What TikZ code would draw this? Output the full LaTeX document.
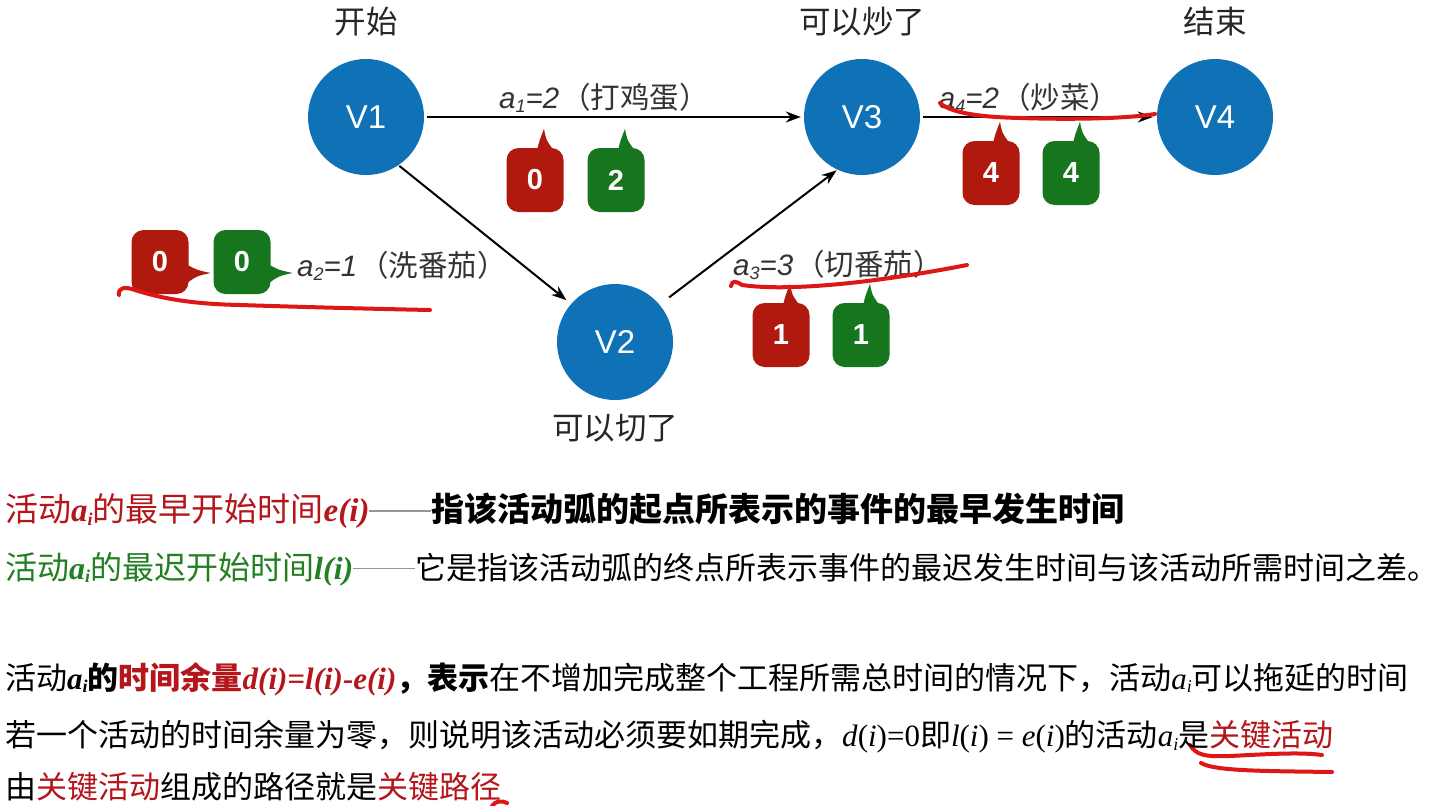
\documentclass[tikz,border=0pt]{standalone}
\usepackage{fontspec}
\setmainfont{Liberation Serif}
\setsansfont{Liberation Sans}
\newfontfamily\cjk{Noto Sans CJK SC}
\usetikzlibrary{arrows.meta,calc}
\definecolor{nodeblue}{RGB}{16,114,182}
\definecolor{boxred}{RGB}{176,26,14}
\definecolor{boxgreen}{RGB}{22,118,30}
\definecolor{txtred}{RGB}{180,22,28}
\definecolor{txtgreen}{RGB}{34,128,34}
\definecolor{penred}{RGB}{222,22,22}
\definecolor{dashgray}{RGB}{150,150,150}
\newcommand\lowsub[1]{\raisebox{-0.28ex}{\fontsize{18}{18}\selectfont #1}}
\newcommand\aiB{\textrm{\bfseries\itshape a\raisebox{-0.25ex}{\fontsize{18}{18}\selectfont i}}}
\newcommand\aiR{\textrm{\itshape a\raisebox{-0.25ex}{\fontsize{18}{18}\selectfont i}}}
\newcommand\rmit[1]{\textrm{\itshape #1}}
\newcommand\rmup[1]{\textrm{\upshape #1}}
\newcommand\longdash[1]{\textcolor{dashgray}{\rule[10pt]{#1}{1.6pt}}}
\begin{document}
\begin{tikzpicture}[x=1pt,y=-1pt,
  vert/.style={circle, fill=nodeblue, minimum size=116pt, inner sep=0pt, text=white, font=\sffamily\fontsize{33}{33}\selectfont},
  caption/.style={font=\cjk\fontsize{31.5}{32}\selectfont, text=black!85},
  elabel/.style={font=\sffamily\fontsize{29.5}{30}\selectfont, text=black!80, inner sep=0pt},
  badge/.style={rounded corners=12pt, minimum width=57pt, minimum height=64pt, inner sep=0pt, text=white, font=\sffamily\bfseries\fontsize{29}{29}\selectfont},
  redbadge/.style={badge, fill=boxred},
  greenbadge/.style={badge, fill=boxgreen},
  arc/.style={-{Stealth[length=15pt,width=11pt]}, line width=2pt},
  pen/.style={penred, line width=4pt, line cap=round, line join=round},
  textline/.style={anchor=west, inner sep=0pt, font=\cjk}
]
\useasboundingbox (0,0) rectangle (1452,806);
\fill[white] (0,0) rectangle (1452,806);

% vertices
\node[vert] (v1) at (366,117) {V1};
\node[vert] (v3) at (862,117) {V3};
\node[vert] (v4) at (1215,117) {V4};
\node[vert] (v2) at (615,342) {V2};

\node[caption] (c1) at (366,22) {开始};
\node[caption] (c3) at (862,22) {可以炒了};
\node[caption] (c4) at (1215,22) {结束};
\node[caption] (c2) at (615,428) {可以切了};

% edges
\draw[arc, shorten <=3pt, shorten >=3pt] (v1.east) -- (v3.west);
\draw[arc, shorten <=1pt, shorten >=6pt] (v1.304) -- (v2.139);
\draw[arc, shorten <=12pt, shorten >=1pt] (v2.40) -- (v3.245);
\draw[arc, shorten <=3pt, shorten >=4pt] (v3.east) -- (v4.west);

% edge labels
\node[elabel] (l1) at (604,98) {\itshape a\lowsub{1}=2\upshape\hspace{2pt}\cjk（打鸡蛋）};
\node[elabel] (l2) at (402,266) {\itshape a\lowsub{2}=1\upshape\hspace{2pt}\cjk（洗番茄）};
\node[elabel] (l3) at (838,265) {\itshape a\lowsub{3}=3\upshape\hspace{2pt}\cjk（切番茄）};
\node[elabel] (l4) at (1029,98) {\itshape a\lowsub{4}=2\upshape\hspace{2pt}\cjk（炒菜）};

% badges with top pointers
\node[redbadge] (r1) at (535,180) {0};
\node[greenbadge] (g1) at (616,180) {2};
\node[redbadge] (r4) at (991,173) {4};
\node[greenbadge] (g4) at (1071,173) {4};
\node[redbadge] (r3) at (781,335) {1};
\node[greenbadge] (g3) at (861,335) {1};
\foreach \b/\c in {r1/boxred,g1/boxgreen,r4/boxred,g4/boxgreen,r3/boxred,g3/boxgreen}{
  \fill[\c] ($(\b.north)+(2,3)$) .. controls ($(\b.north)+(4,-6)$) .. ($(\b.north)+(9,-19)$)
     .. controls ($(\b.north)+(11,-8)$) .. ($(\b.north)+(19,3)$) -- cycle;
}
% badges with right pointers
\node[redbadge] (r2) at (160,262) {0};
\node[greenbadge] (g2) at (242,262) {0};
\foreach \b/\c in {r2/boxred,g2/boxgreen}{
  \fill[\c] ($(\b.east)+(-3,2)$) .. controls ($(\b.east)+(8,8)$) .. ($(\b.east)+(22,11)$)
     .. controls ($(\b.east)+(8,14)$) .. ($(\b.east)+(-3,22)$) -- cycle;
}

% red pen strokes
\draw[pen] (119,295) .. controls (118,288) and (124,286) .. (135,290)
   .. controls (160,298) and (190,304) .. (240,305)
   .. controls (300,307) and (380,309) .. (430,310);
\draw[pen] (940,103) .. controls (950,112) and (975,117) .. (1020,118)
   .. controls (1080,120) and (1130,118) .. (1155,114);
\draw[pen] (731,286) .. controls (732,280) and (736,281) .. (742,285)
   .. controls (790,292) and (880,282) .. (967,265);
\draw[pen] (1190,745) .. controls (1196,755) and (1205,757) .. (1230,756)
   .. controls (1270,754) and (1300,752) .. (1322,755);
\draw[pen] (1201,763) .. controls (1215,771) and (1260,771) .. (1332,772);
\draw[pen] (492,806) .. controls (495,801) and (502,800) .. (507,803);

% text lines
\node[textline] (t1) at (5,511) {{\color{txtred}\fontsize{33}{34}\selectfont 活动\aiB 的最早开始时间\textrm{\bfseries\itshape e(i)}}\longdash{62pt}{\bfseries\fontsize{33}{34}\selectfont 指该活动弧的起点所表示的事件的最早发生时间}};
\node[textline] (t2) at (5,569) {{\color{txtgreen}\fontsize{32}{33}\selectfont 活动\aiB 的最迟开始时间\textrm{\bfseries\itshape l(i)}}\longdash{62pt}{\fontsize{31}{34}\selectfont 它是指该活动弧的终点所表示事件的最迟发生时间与该活动所需时间之差。}};
\node[textline] (t3) at (5,679) {\fontsize{31}{32}\selectfont 活动\aiB{\bfseries 的}{\color{txtred}\bfseries 时间余量\textrm{\bfseries\itshape d(i)=l(i)-e(i)}}{\bfseries ，表示}在不增加完成整个工程所需总时间的情况下，活动\aiR 可以拖延的时间};
\node[textline] (t4) at (5,737) {\fontsize{31}{32}\selectfont 若一个活动的时间余量为零，则说明该活动必须要如期完成，\rmit{d}\rmup{(}\rmit{i}\rmup{)=0}即\rmit{l}\rmup{(}\rmit{i}\rmup{) = }\rmit{e}\rmup{(}\rmit{i}\rmup{)}的活动\aiR 是{\color{txtred}关键活动}};
\node[textline] (t5) at (5,787) {\fontsize{31}{32}\selectfont 由{\color{txtred}关键活动}组成的路径就是{\color{txtred}关键路径}};
\end{tikzpicture}
\end{document}
